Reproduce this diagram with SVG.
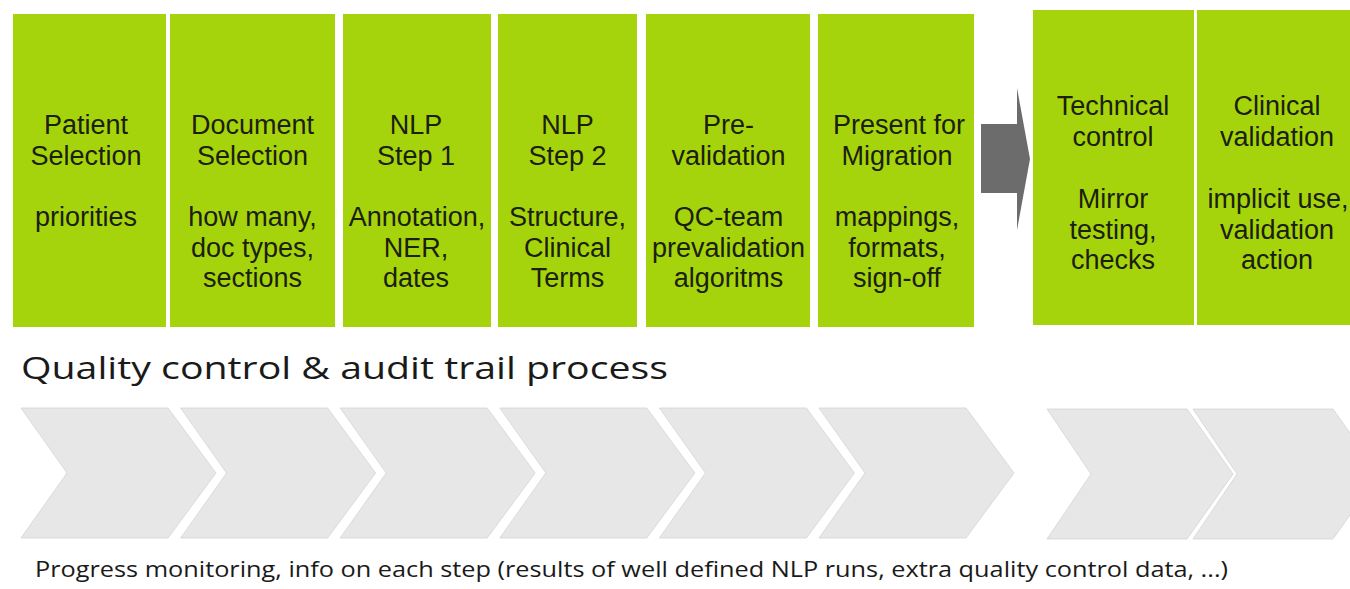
<svg xmlns="http://www.w3.org/2000/svg" width="1350" height="589" viewBox="0 0 1350 589">
  <style>
    .box { fill: #a6d40c; }
    .lbl { font-family: "Liberation Sans", Arial, sans-serif; font-size: 27px; fill: #1b200c; text-anchor: middle; }
    .chev { fill: #e7e7e7; stroke: #d4d4d4; stroke-width: 0.8; }
    .title { font-family: "Open Sans", "Liberation Sans", sans-serif; font-size: 31px; fill: #1a1a1a; }
    .foot { font-family: "Open Sans", "Liberation Sans", sans-serif; font-size: 21px; fill: #1a1a1a; }
    .arrow { fill: #6c6c6c; }
  </style>
  <defs>
    <path id="chevL" d="M0,0 H147 L195,65 L147,130 H0 L46,65 Z"/>
    <path id="chevR" d="M0,0 H140 L186,65 L140,130 H0 L44,65 Z"/>
  </defs>
  <rect width="1350" height="589" fill="#ffffff"/>

  <g id="node-patient-selection">
    <rect class="box" x="13" y="14" width="153" height="313"/>
    <text class="lbl"><tspan x="86" y="134">Patient</tspan><tspan x="86" y="164.5">Selection</tspan><tspan x="86" y="226">priorities</tspan></text>
  </g>
  <g id="node-document-selection">
    <rect class="box" x="170" y="14" width="165" height="313"/>
    <text class="lbl"><tspan x="252.5" y="134">Document</tspan><tspan x="252.5" y="164.5">Selection</tspan><tspan x="252.5" y="226">how many,</tspan><tspan x="252.5" y="256.5">doc types,</tspan><tspan x="252.5" y="287">sections</tspan></text>
  </g>
  <g id="node-nlp-step1">
    <rect class="box" x="343" y="14" width="148" height="313"/>
    <text class="lbl"><tspan x="416" y="134">NLP</tspan><tspan x="416" y="164.5">Step 1</tspan><tspan x="417" y="226">Annotation,</tspan><tspan x="416" y="256.5">NER,</tspan><tspan x="416" y="287">dates</tspan></text>
  </g>
  <g id="node-nlp-step2">
    <rect class="box" x="498" y="14" width="139" height="313"/>
    <text class="lbl"><tspan x="567.5" y="134">NLP</tspan><tspan x="567.5" y="164.5">Step 2</tspan><tspan x="567.5" y="226">Structure,</tspan><tspan x="567.5" y="256.5">Clinical</tspan><tspan x="567.5" y="287">Terms</tspan></text>
  </g>
  <g id="node-prevalidation">
    <rect class="box" x="646" y="14" width="164" height="313"/>
    <text class="lbl"><tspan x="728.5" y="134">Pre-</tspan><tspan x="728.5" y="164.5">validation</tspan><tspan x="728.5" y="226">QC-team</tspan><tspan x="728.5" y="256.5">prevalidation</tspan><tspan x="728.5" y="287">algoritms</tspan></text>
  </g>
  <g id="node-present-migration">
    <rect class="box" x="818" y="14" width="156" height="313"/>
    <text class="lbl"><tspan x="899" y="134">Present for</tspan><tspan x="897" y="164.5">Migration</tspan><tspan x="897" y="226">mappings,</tspan><tspan x="897" y="256.5">formats,</tspan><tspan x="897" y="287">sign-off</tspan></text>
  </g>
  <g id="node-technical-control">
    <rect class="box" x="1033" y="10" width="161" height="315"/>
    <text class="lbl"><tspan x="1113" y="115">Technical</tspan><tspan x="1113" y="146">control</tspan><tspan x="1113" y="208">Mirror</tspan><tspan x="1113" y="238.5">testing,</tspan><tspan x="1113" y="269">checks</tspan></text>
  </g>
  <g id="node-clinical-validation">
    <rect class="box" x="1197" y="10" width="153" height="315"/>
    <text class="lbl"><tspan x="1277" y="115">Clinical</tspan><tspan x="1277" y="146">validation</tspan><tspan x="1278" y="208">implicit use,</tspan><tspan x="1277" y="238.5">validation</tspan><tspan x="1277" y="269">action</tspan></text>
  </g>

  <g id="connectors">
    <path class="arrow" d="M981,124 H1017 V88 L1030,159 L1017,230 V193 H981 Z"/>
  </g>

  <g id="title">
    <text class="title" x="21" y="379" textLength="647" lengthAdjust="spacingAndGlyphs">Quality control &amp; audit trail process</text>
  </g>

  <g id="chevrons">
    <use href="#chevL" class="chev" x="21" y="408"/>
    <use href="#chevL" class="chev" x="180.6" y="408"/>
    <use href="#chevL" class="chev" x="340.2" y="408"/>
    <use href="#chevL" class="chev" x="499.8" y="408"/>
    <use href="#chevL" class="chev" x="659.4" y="408"/>
    <use href="#chevL" class="chev" x="819" y="408"/>
    <use href="#chevR" class="chev" x="1047" y="409"/>
    <use href="#chevR" class="chev" x="1193" y="409"/>
  </g>

  <g id="footer">
    <text class="foot" x="35" y="577" textLength="1193" lengthAdjust="spacingAndGlyphs">Progress monitoring, info on each step (results of well defined NLP runs, extra quality control data, ...)</text>
  </g>
</svg>
